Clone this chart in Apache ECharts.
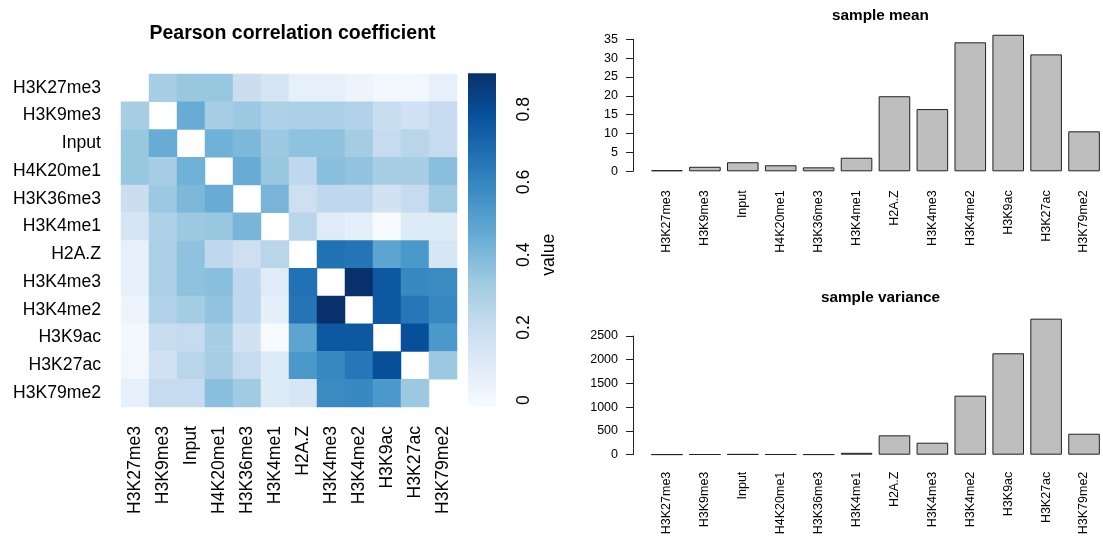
<!DOCTYPE html>
<html>
<head>
<meta charset="utf-8">
<script src="https://cdn.jsdelivr.net/npm/echarts@6/dist/echarts.min.js"></script>
<style>
html,body{margin:0;padding:0;background:#fff;}
#chart{width:1103px;height:543px;}
</style>
</head>
<body>
<div id="chart"></div>
<script>
// ---------- data ----------
const categories = ['H3K27me3','H3K9me3','Input','H4K20me1','H3K36me3','H3K4me1','H2A.Z','H3K4me3','H3K4me2','H3K9ac','H3K27ac','H3K79me2'];

// Pearson correlation matrix (diagonal = NA, drawn white)
const corr = [
  [null, 0.30, 0.34, 0.34, 0.19, 0.14, 0.06, 0.06, 0.03, 0.00, 0.01, 0.06],
  [0.30, null, 0.45, 0.30, 0.33, 0.28, 0.29, 0.29, 0.27, 0.20, 0.17, 0.21],
  [0.34, 0.45, null, 0.43, 0.40, 0.33, 0.36, 0.36, 0.31, 0.21, 0.25, 0.21],
  [0.34, 0.30, 0.43, null, 0.45, 0.34, 0.23, 0.37, 0.35, 0.30, 0.30, 0.37],
  [0.19, 0.33, 0.40, 0.45, null, 0.41, 0.18, 0.23, 0.23, 0.16, 0.21, 0.32],
  [0.14, 0.28, 0.33, 0.34, 0.41, null, 0.25, 0.09, 0.07, -0.018, 0.10, 0.10],
  [0.06, 0.29, 0.36, 0.23, 0.18, 0.25, null, 0.67, 0.66, 0.48, 0.53, 0.13],
  [0.06, 0.29, 0.36, 0.37, 0.23, 0.09, 0.67, null, 0.899, 0.76, 0.59, 0.58],
  [0.03, 0.27, 0.31, 0.35, 0.23, 0.07, 0.66, 0.899, null, 0.76, 0.65, 0.59],
  [0.00, 0.20, 0.21, 0.30, 0.16, -0.018, 0.48, 0.76, 0.76, null, 0.79, 0.53],
  [0.01, 0.17, 0.25, 0.30, 0.21, 0.10, 0.53, 0.59, 0.65, 0.79, null, 0.33],
  [0.06, 0.21, 0.21, 0.37, 0.32, 0.10, 0.13, 0.58, 0.59, 0.53, 0.33, null]
];

const sampleMean = [0.3, 1.2, 2.4, 1.6, 1.05, 3.6, 19.9, 16.5, 34.2, 36.2, 31.0, 10.6];
const sampleVariance = [5, 8, 12, 9, 6, 40, 408, 253, 1243, 2136, 2865, 442];

const colorbarTickMin = 0, colorbarTickMax = 0.8, colorbarTickStep = 0.2;
const meanTicksMax = 35;
const varTicksMax = 2500;

// ---------- styling ----------
const blues = ['#F7FBFF','#DEEBF7','#C6DBEF','#9ECAE1','#6BAED6','#4292C6','#2171B5','#08519C','#08306B'];
const zMin = -0.018, zMax = 0.899;
const FONT = '"Liberation Sans", Arial, Helvetica, sans-serif';

// colour bar box
const CB = {left: 468, top: 73.3, width: 28, height: 333.4};
// the tick axis spans only from the first to the last tick (as R draws it)
const pxPerUnit = CB.height / (zMax - zMin);
const tickAxisTop = CB.top + (zMax - colorbarTickMax) * pxPerUnit;
const tickAxisHeight = (colorbarTickMax - colorbarTickMin) * pxPerUnit;

const heatData = [];
corr.forEach((row, i) => row.forEach((v, j) => {
  heatData.push([j, i, v === null ? '-' : v]);
}));

const chart = echarts.init(document.getElementById('chart'), null, {renderer: 'canvas'});

const barAxisLabel = {color: '#000', fontSize: 12.5, fontFamily: FONT, formatter: v => String(v)};

const option = {
  backgroundColor: '#fff',
  animation: false,
  textStyle: {fontFamily: FONT, color: '#000'},
  title: [
    {text: 'Pearson correlation coefficient', left: 287.5, top: 19, textAlign: 'center',
     textStyle: {fontSize: 19.5, fontWeight: 'bold', color: '#000', fontFamily: FONT}},
    {text: 'sample mean', left: 875.5, top: 3, textAlign: 'center',
     textStyle: {fontSize: 15.3, fontWeight: 'bold', color: '#000', fontFamily: FONT}},
    {text: 'sample variance', left: 875.5, top: 285, textAlign: 'center',
     textStyle: {fontSize: 15.3, fontWeight: 'bold', color: '#000', fontFamily: FONT}}
  ],
  grid: [
    {left: 121, top: 74, width: 336, height: 333},
    {left: CB.left, top: CB.top, width: CB.width, height: CB.height},
    {left: 648, top: 39.3, width: 456, height: 132},
    {left: 648, top: 336, width: 456, height: 118.7},
    {left: CB.left, top: tickAxisTop, width: CB.width, height: tickAxisHeight}
  ],
  visualMap: [{
    type: 'continuous', show: false, seriesIndex: [0], dimension: 2,
    min: zMin, max: zMax, inRange: {color: blues}
  }],
  xAxis: [
    {gridIndex: 0, type: 'category', data: categories, position: 'bottom',
     axisLine: {show: false}, axisTick: {show: false}, splitLine: {show: false},
     axisLabel: {interval: 0, rotate: 90, margin: 19, fontSize: 17.6, color: '#000', fontFamily: FONT}},
    {gridIndex: 1, type: 'value', min: 0, max: 1, show: false},
    {gridIndex: 2, type: 'category', data: categories,
     axisLine: {show: false}, axisTick: {show: false},
     axisLabel: Object.assign({}, barAxisLabel, {interval: 0, rotate: 90, margin: 19, formatter: null})},
    {gridIndex: 3, type: 'category', data: categories,
     axisLine: {show: false}, axisTick: {show: false},
     axisLabel: Object.assign({}, barAxisLabel, {interval: 0, rotate: 90, margin: 17, formatter: null})},
    {gridIndex: 4, type: 'value', min: 0, max: 1, show: false}
  ],
  yAxis: [
    {gridIndex: 0, type: 'category', data: categories, inverse: true,
     axisLine: {show: false}, axisTick: {show: false}, splitLine: {show: false},
     axisLabel: {interval: 0, margin: 20, fontSize: 17.6, color: '#000', fontFamily: FONT}},
    {gridIndex: 1, type: 'value', min: zMin, max: zMax, show: false},
    {gridIndex: 2, type: 'value', min: 0, max: meanTicksMax, interval: 5, offset: 15,
     splitLine: {show: false},
     axisLine: {show: true, lineStyle: {color: '#222', width: 1}},
     axisTick: {show: true, length: 7, lineStyle: {color: '#222', width: 1}},
     axisLabel: Object.assign({margin: 15}, barAxisLabel)},
    {gridIndex: 3, type: 'value', min: 0, max: varTicksMax, interval: 500, offset: 15,
     splitLine: {show: false},
     axisLine: {show: true, lineStyle: {color: '#222', width: 1}},
     axisTick: {show: true, length: 7, lineStyle: {color: '#222', width: 1}},
     axisLabel: Object.assign({margin: 15}, barAxisLabel)},
    {gridIndex: 4, type: 'value', min: colorbarTickMin, max: colorbarTickMax, interval: colorbarTickStep,
     position: 'right', splitLine: {show: false},
     axisLine: {show: true, lineStyle: {color: '#222', width: 1}},
     axisTick: {show: true, length: 10, lineStyle: {color: '#222', width: 1}},
     axisLabel: {rotate: 90, margin: 19, fontSize: 17.6, color: '#000', fontFamily: FONT,
                 formatter: v => String(Math.round(v * 10) / 10)},
     name: 'value', nameLocation: 'middle', nameRotate: 90, nameGap: 44,
     nameTextStyle: {fontSize: 17.6, color: '#000', fontFamily: FONT}}
  ],
  series: [
    {type: 'heatmap', xAxisIndex: 0, yAxisIndex: 0, data: heatData,
     itemStyle: {borderWidth: 0}, emphasis: {disabled: true}},
    // colour bar strip
    {type: 'custom', xAxisIndex: 1, yAxisIndex: 1, data: [[0.5, zMax]], silent: true, z: 1,
     renderItem: function (params, api) {
       const pTop = api.coord([0, zMax]);
       const pBot = api.coord([1, zMin]);
       const stops = blues.map((c, k) => ({offset: k / (blues.length - 1), color: c}));
       return {type: 'rect', shape: {x: pTop[0], y: pTop[1], width: pBot[0] - pTop[0], height: pBot[1] - pTop[1]},
               style: {fill: new echarts.graphic.LinearGradient(0, 1, 0, 0, stops)}};
     }},
    {type: 'bar', xAxisIndex: 2, yAxisIndex: 2, data: sampleMean, clip: false,
     barCategoryGap: '16.7%',
     itemStyle: {color: '#BEBEBE', borderColor: '#222', borderWidth: 1},
     emphasis: {disabled: true}},
    {type: 'bar', xAxisIndex: 3, yAxisIndex: 3, data: sampleVariance, clip: false,
     barCategoryGap: '16.7%',
     itemStyle: {color: '#BEBEBE', borderColor: '#222', borderWidth: 1},
     emphasis: {disabled: true}}
  ]
};
chart.setOption(option);
</script>
</body>
</html>
